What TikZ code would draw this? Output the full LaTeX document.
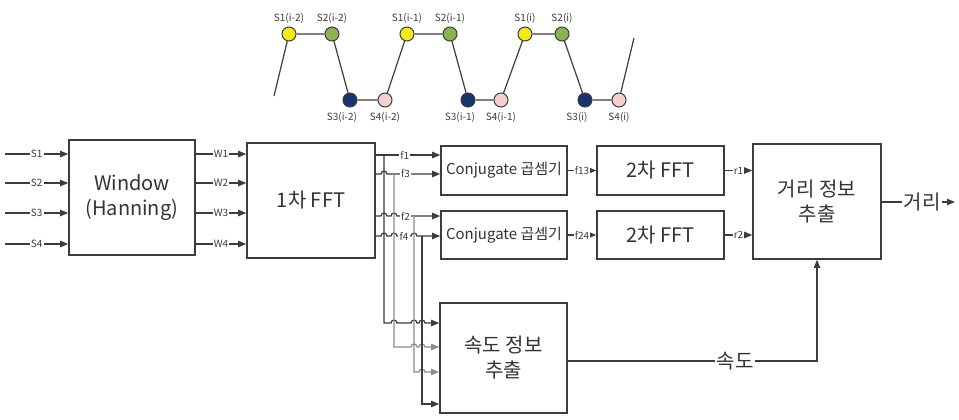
\documentclass[tikz,border=0pt]{standalone}
\usepackage{fontspec}
\setmainfont{Noto Sans CJK KR}
\usetikzlibrary{arrows.meta,calc,positioning}
\definecolor{wavyellow}{RGB}{242,234,24}
\definecolor{wavgreen}{RGB}{140,178,82}
\definecolor{wavnavy}{RGB}{22,52,110}
\definecolor{wavpink}{RGB}{244,208,206}
\definecolor{linedark}{RGB}{60,60,60}

\begin{document}
\begin{tikzpicture}[x=0.5pt, y=-0.5pt,
      blk/.style={rectangle, draw=linedark, line width=0.8pt, fill=white, align=center, inner sep=1pt, font=\fontsize{10}{12.5}\selectfont, text=black!80},
      lbl/.style={fill=white, inner sep=0.6pt, font=\fontsize{5}{6}\selectfont, text=linedark},
      big/.style={fill=white, inner sep=0.8pt, font=\fontsize{10}{12}\selectfont, text=black!80},
      arr/.style={-{Triangle[length=4pt, width=3.2pt]}, line width=0.6pt, draw=linedark},
      wire/.style={line width=0.6pt, draw=linedark},
      dot/.style={circle, draw=linedark, line width=0.5pt, minimum size=7pt, inner sep=0pt},
      wlbl/.style={font=\fontsize{5}{6}\selectfont, text=linedark, inner sep=0.5pt}
    ]
      \useasboundingbox (0,0) rectangle (959,419);

      % Top: sampled waveform
      \coordinate (wstart) at (274,96);
      \coordinate (wend) at (634,38);
      \foreach \k/\xa/\xb/\xc/\xd/\s in {1/289/332/350/385/i-2, 2/407/450/468/501/i-1, 3/525/562/585/619/i} {
        \node[dot, fill=wavyellow] (sa\k) at (\xa,34) {};
        \node[dot, fill=wavgreen] (sb\k) at (\xb,34) {};
        \node[dot, fill=wavnavy] (sc\k) at (\xc,100) {};
        \node[dot, fill=wavpink] (sd\k) at (\xd,100) {};
        \node[wlbl, above=1pt of sa\k] {S1(\s)};
        \node[wlbl, above=1pt of sb\k] {S2(\s)};
        \node[wlbl, below=1.5pt of sc\k, xshift=-4pt] {S3(\s)};
        \node[wlbl, below=1.5pt of sd\k] {S4(\s)};
      }
      \draw[wire] (wstart) -- (sa1) -- (sb1) -- (sc1) -- (sd1) -- (sa2) -- (sb2) -- (sc2) -- (sd2)
        -- (sa3) -- (sb3) -- (sc3) -- (sd3) -- (wend);

      % Main chain
      \node[blk, minimum width=63pt, minimum height=57.5pt] (win) at (132,197.5) {Window\\(Hanning)};
      \node[blk, minimum width=64pt, minimum height=57.5pt] (fft1) at (311,200.5) {1차 FFT};
      \node[blk, minimum width=63pt, minimum height=24.5pt, font=\fontsize{7.5}{9}\selectfont] (conj1) at (504,170.5) {Conjugate 곱셈기};
      \node[blk, minimum width=63pt, minimum height=24pt, font=\fontsize{7.5}{9}\selectfont] (conj2) at (504,235) {Conjugate 곱셈기};
      \node[blk, minimum width=63.5pt, minimum height=24.5pt] (fft2a) at (660.5,170.5) {2차 FFT};
      \node[blk, minimum width=63.5pt, minimum height=24pt] (fft2b) at (660.5,235) {2차 FFT};
      \node[blk, minimum width=64pt, minimum height=57.5pt] (dist) at (817,201.5) {거리 정보\\추출};
      \node[blk, minimum width=63.5pt, minimum height=55pt] (vel) at (503.5,358) {속도 정보\\추출};

      % Inputs and window outputs
      \foreach \i/\y in {1/154, 2/183, 3/213, 4/244} {
        \coordinate (in\i) at (5,\y);
        \draw[arr] (in\i) -- (in\i -| win.west) node[lbl, midway]{S\i};
        \draw[arr] (win.east |- in\i) -- (fft1.west |- in\i) node[lbl, midway]{W\i};
      }

      % Spectra to multipliers (with hops)
      \coordinate (t1) at (384,155);
      \coordinate (t3) at (394,174);
      \coordinate (t2) at (414,216);
      \coordinate (t4) at (422,236);
      \draw[arr] (fft1.east |- t1) -- node[lbl, pos=0.45]{f1} (conj1.west |- t1);
      \draw[arr] (fft1.east |- t3) -- (381,174) arc[start angle=180, end angle=0, radius=1.5pt]
        -- node[lbl, pos=0.35]{f3} (conj1.west |- t3);
      \draw[arr] (fft1.east |- t2) -- (381,216) arc[start angle=180, end angle=0, radius=1.5pt]
        -- (391,216) arc[start angle=180, end angle=0, radius=1.5pt]
        -- node[lbl, pos=0.2]{f2} (conj2.west |- t2);
      \draw[arr] (fft1.east |- t4) -- (381,236) arc[start angle=180, end angle=0, radius=1.5pt]
        -- (391,236) arc[start angle=180, end angle=0, radius=1.5pt]
        -- node[lbl, midway]{f4} (411,236) arc[start angle=180, end angle=0, radius=1.5pt]
        -- (conj2.west |- t4);

      % Taps to velocity block
      \draw[arr] (t1) -- (384,323) -- (391,323) arc[start angle=180, end angle=0, radius=1.5pt]
        -- (411,323) arc[start angle=180, end angle=0, radius=1.5pt]
        -- (419,323) arc[start angle=180, end angle=0, radius=1.5pt] -- (vel.west |- 0,323);
      \draw[arr, draw=black!45] (t3) -- (394,347) -- (411,347) arc[start angle=180, end angle=0, radius=1.5pt]
        -- (419,347) arc[start angle=180, end angle=0, radius=1.5pt] -- (vel.west |- 0,347);
      \draw[arr, draw=black!45] (t2) -- (414,372) -- (419,372) arc[start angle=180, end angle=0, radius=1.5pt]
        -- (vel.west |- 0,372);
      \draw[arr] (t4) -- (422,404) -- (vel.west |- 0,404);

      % Second FFT and range extraction
      \draw[arr] (conj1) -- (fft2a) node[lbl, midway]{f13};
      \draw[arr] (conj2) -- (fft2b) node[lbl, midway]{f24};
      \draw[arr] (fft2a.east) -- (fft2a.east -| dist.west) node[lbl, midway]{r1};
      \draw[arr] (fft2b.east) -- (fft2b.east -| dist.west) node[lbl, midway]{r2};
      \coordinate (dout) at (955,202);
      \draw[arr] (dist.east |- dout) -- (dout) node[big, pos=0.55]{거리};
      \draw[arr] (vel.east |- 0,361) -| (dist.south) node[big, pos=0.336]{속도};
    \end{tikzpicture}
\end{document}
